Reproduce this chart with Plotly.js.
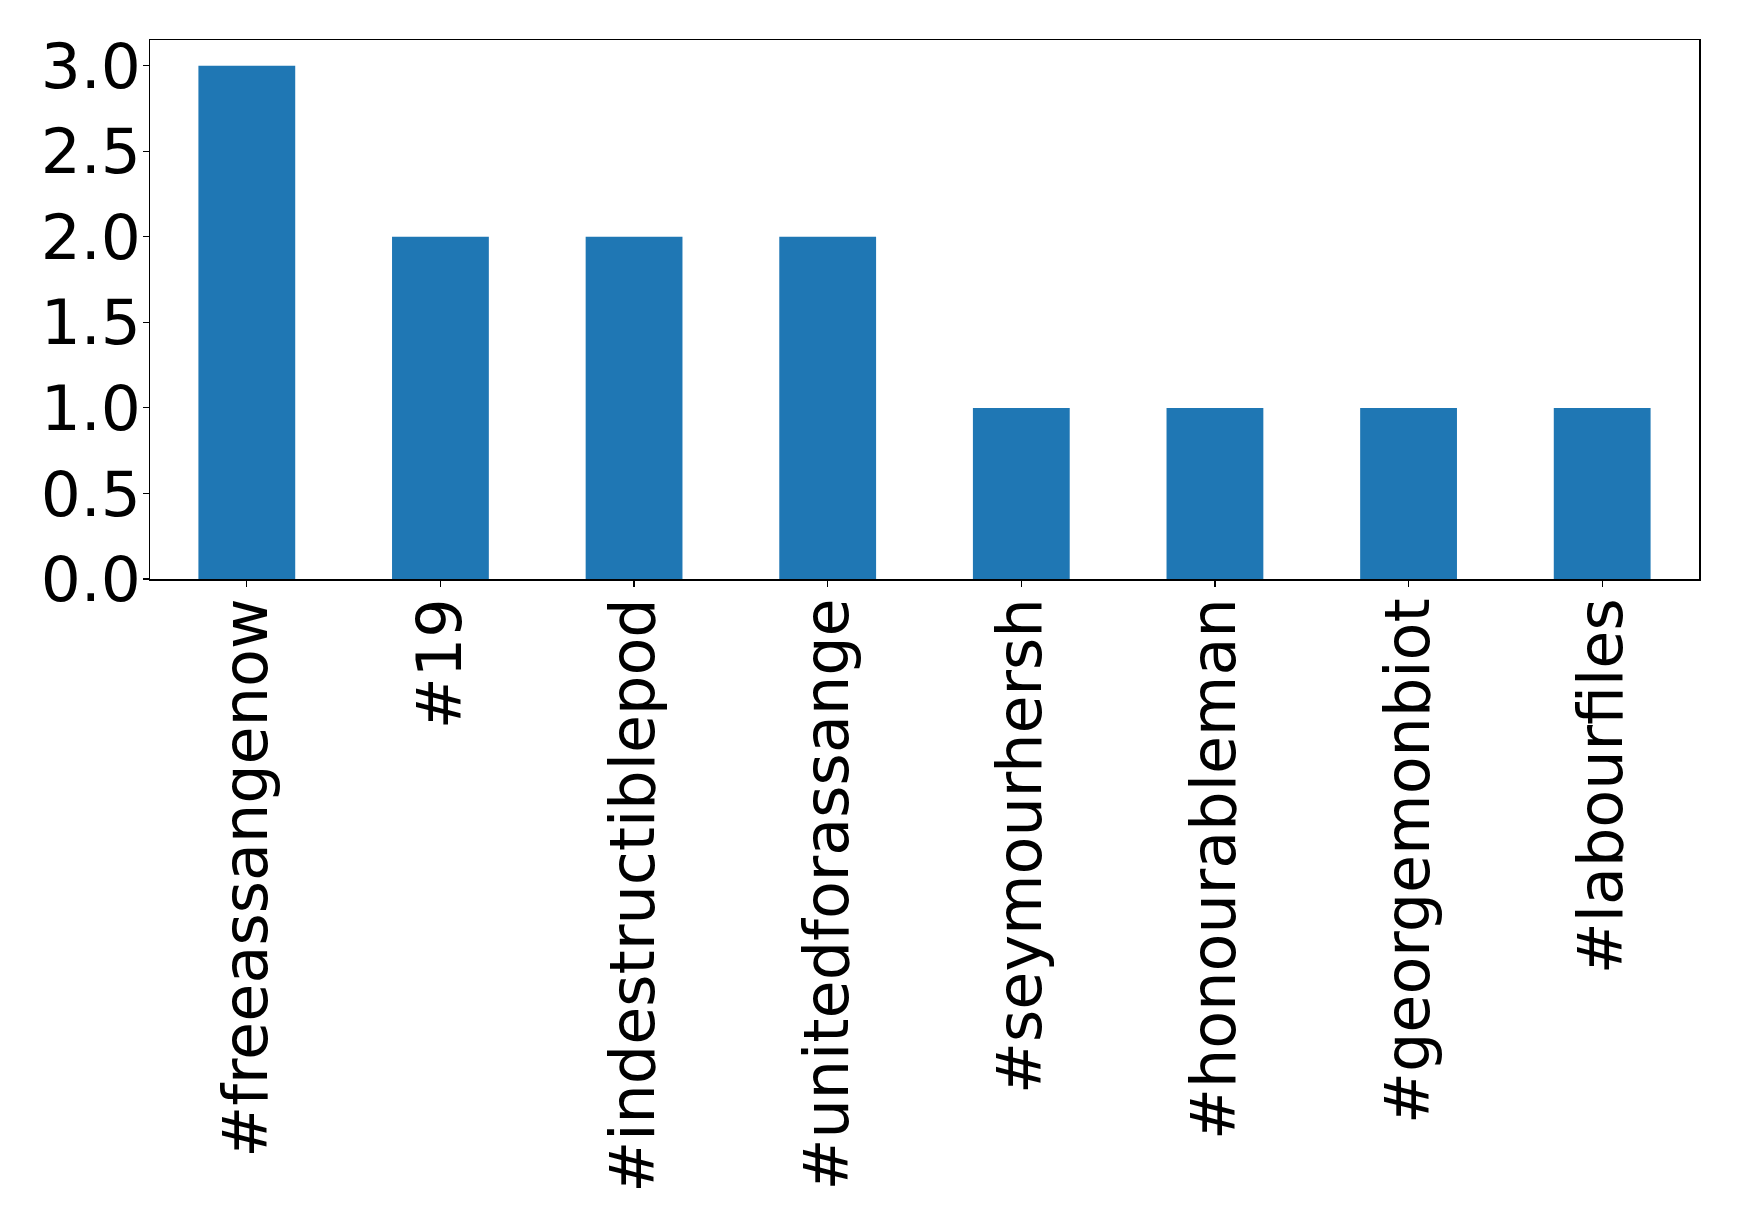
<!DOCTYPE html>
<html>
<head>
<meta charset="utf-8">
<script src="https://cdn.plot.ly/plotly-3.0.1.min.js"></script>
<style>html,body{margin:0;padding:0;background:#fff;}#chart{width:1739px;height:1225px;}</style>
</head>
<body>
<div id="chart"></div>
<script>
const categories = ["#freeassangenow", "#19", "#indestructiblepod", "#unitedforassange", "#seymourhersh", "#honourableman", "#georgemonbiot", "#labourfiles"];
const counts = [3, 2, 2, 2, 1, 1, 1, 1];
const yTickVals = [0, 0.5, 1, 1.5, 2, 2.5, 3];
const yTickText = ["0.0", "0.5", "1.0", "1.5", "2.0", "2.5", "3.0"];

const trace = {
  type: "bar",
  x: categories,
  y: counts,
  width: 0.5,
  marker: {color: "#1f77b4"},
  hoverinfo: "x+y"
};

const layout = {
  width: 1739,
  height: 1225,
  margin: {l: 150, r: 40, t: 40, b: 646, pad: 0},
  paper_bgcolor: "#ffffff",
  plot_bgcolor: "#ffffff",
  font: {family: "DejaVu Sans", color: "#000000", size: 62},
  showlegend: false,
  xaxis: {
    type: "category",
    range: [-0.5, 7.5],
    showline: true, linecolor: "#000000", linewidth: 1.5, mirror: true,
    ticks: "outside", ticklen: 6, tickwidth: 1.2, tickcolor: "#000000",
    tickangle: -90,
    ticklabelstandoff: -13,
    tickfont: {family: "DejaVu Sans", size: 62, color: "#000000"},
    showgrid: false, zeroline: false
  },
  yaxis: {
    range: [0, 3.15],
    tickvals: yTickVals,
    ticktext: yTickText,
    showline: true, linecolor: "#000000", linewidth: 1.5, mirror: true,
    ticks: "outside", ticklen: 6, tickwidth: 1.2, tickcolor: "#000000",
    ticklabelstandoff: -11,
    tickfont: {family: "DejaVu Sans", size: 63, color: "#000000"},
    showgrid: false, zeroline: false
  }
};

Plotly.newPlot("chart", [trace], layout, {displayModeBar: false, staticPlot: true});
</script>
</body>
</html>
